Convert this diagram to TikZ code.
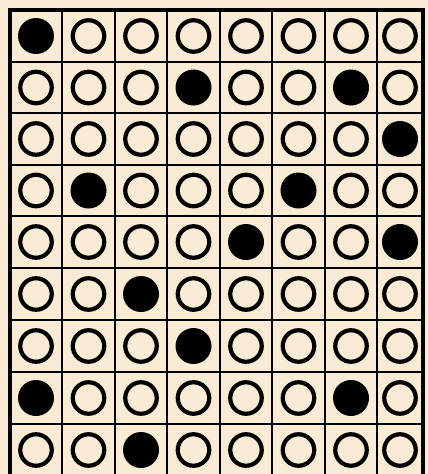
\documentclass[tikz,border=0pt]{standalone}
\definecolor{paper}{RGB}{250,236,212}
\tikzset{
  gridline/.style={line width=2.8pt, black},
  ring/.style={circle, draw=black, line width=4.2pt, minimum size=31.5pt, inner sep=0pt, fill=paper},
  dot/.style={circle, fill=black, minimum size=36pt, inner sep=0pt},
}
\begin{document}
\begin{tikzpicture}[x=1pt,y=-1pt]
\useasboundingbox (0,0) rectangle (428,474);
\fill[paper] (0,0) rectangle (428,474);
% grid lines
\foreach \xx in {62,115,167,220,272,325,377} {
  \draw[gridline] (\xx,10) -- (\xx,480);
}
\foreach \yy in {62,113,165,216,268,320,372,424} {
  \draw[gridline] (10,\yy) -- (423,\yy);
}
\draw[line width=3.6pt] (10,480) -- (10,10) -- (423,10) -- (423,480);
% circles
\foreach \r/\cy/\filled in {0/36/{0},1/87.5/{3,6},2/139/{7},3/190.5/{1,5},4/242/{4,7},5/294/{2},6/346/{3},7/398/{0,6},8/450/{2}} {
  \foreach \c/\cx in {0/36,1/88.5,2/141,3/193.5,4/246,5/298.5,6/351,7/400} {
    \gdef\isfilled{0}
    \foreach \f in \filled {\ifnum\f=\c \xdef\isfilled{1}\fi}
    \ifnum\isfilled=1
      \node[dot] (c-\r-\c) at (\cx,\cy) {};
    \else
      \node[ring] (c-\r-\c) at (\cx,\cy) {};
    \fi
  }
}
\end{tikzpicture}
\end{document}
